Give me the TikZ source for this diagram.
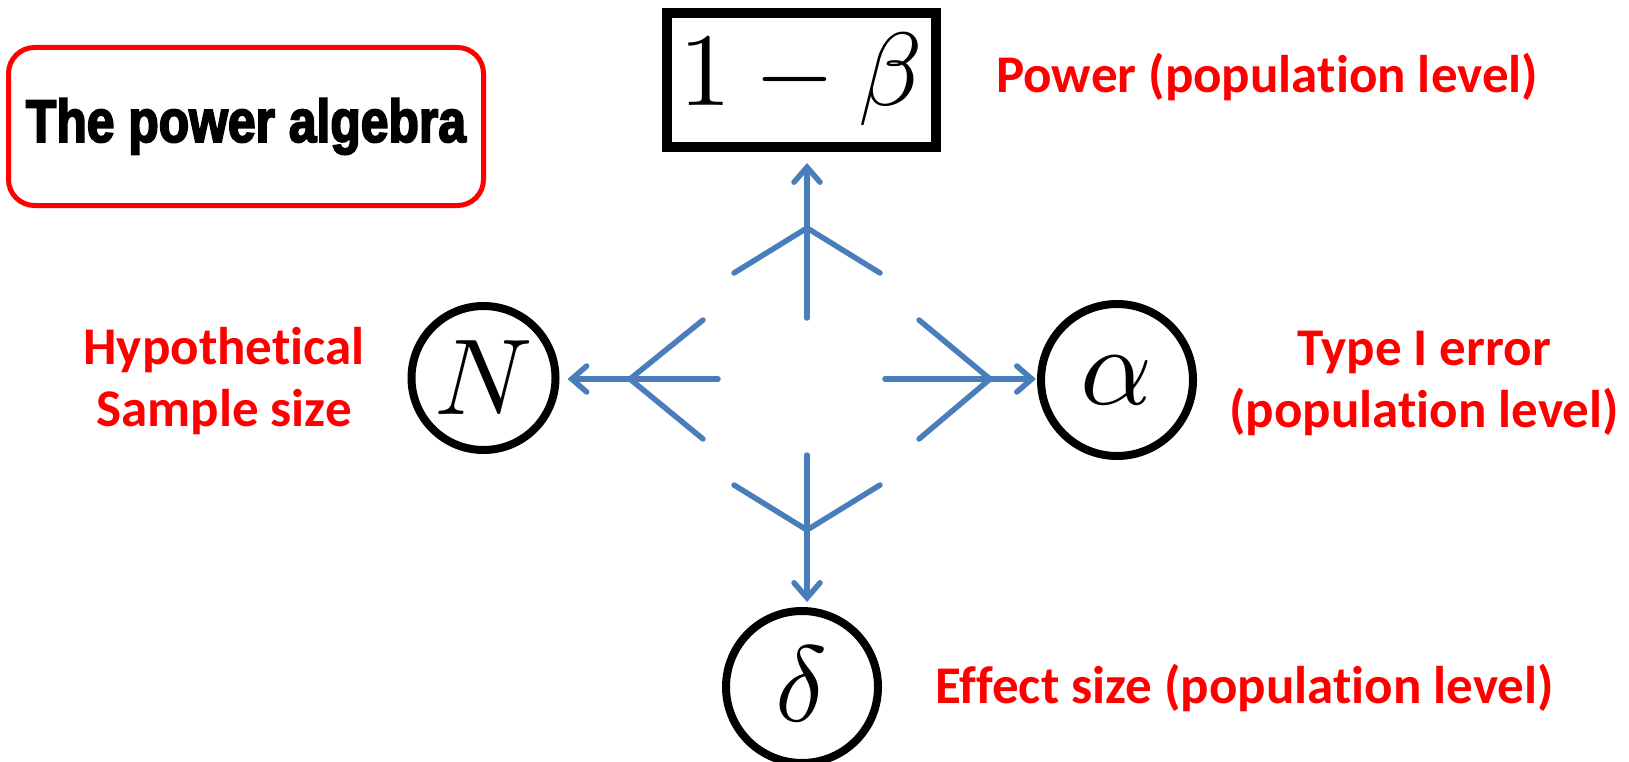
\documentclass[tikz,border=0pt]{standalone}
\usepackage{fontspec}
\usepackage{graphicx}
\usetikzlibrary{arrows.meta}
\newfontfamily\redfont{Carlito}[Ligatures={NoCommon}]
\newfontfamily\impactfont{Liberation Sans Bold}[FakeBold=3.5]
\definecolor{arrowblue}{RGB}{74,126,187}
\begin{document}
\begin{tikzpicture}[x=1pt,y=-1pt,
  lbl/.style={text=red, font=\redfont\bfseries\fontsize{53}{62}\selectfont, inner sep=0pt},
  varnode/.style={circle, draw=black, line width=8pt, inner sep=0pt},
  blu/.style={draw=arrowblue, line width=5.5pt, line cap=round},
  tipped/.style={-{Straight Barb[length=15pt,width=26pt,line cap=round]}}
]
\useasboundingbox (0,0) rectangle (1629,762);

% title box
\node[draw=red, line width=5pt, rounded corners=26pt, minimum width=475pt, minimum height=158pt, inner sep=0pt] (title) at (246,126.5)
  {\impactfont\resizebox*{440pt}{56pt}{The power algebra}};

% power box
\node[draw=black, line width=10pt, minimum width=269pt, minimum height=134pt, inner sep=0pt] (pw) at (801.5,80)
  {\scalebox{10.4}{$1-\beta$}};

% variable circles
\node[varnode, minimum size=144pt] (N) at (483.5,378) {\scalebox{10.8}{$N$}};
\node[varnode, minimum size=152pt] (al) at (1117,380) {\scalebox{11.2}{$\alpha$}};
\node[varnode, minimum size=152pt] (de) at (802,687) {\raisebox{6pt}{\scalebox{10.8}{$\delta$}}};

% top fork
\coordinate (ts) at (807,318);
\coordinate (tj) at (807,228);
\coordinate (tl) at (734,273);
\coordinate (tr) at (880,273);
\draw[blu, tipped, shorten >=11pt] (ts) -- (ts |- pw.south);
\draw[blu] (tl) -- (tj) -- (tr);

% left fork
\coordinate (ls) at (718,379);
\coordinate (lj) at (630,379);
\coordinate (lu) at (703,320);
\coordinate (ld) at (703,439);
\draw[blu, tipped, shorten >=8pt] (ls) -- (ls -| N.east);
\draw[blu] (lu) -- (lj) -- (ld);

% right fork
\coordinate (rs) at (885,379);
\coordinate (rj) at (990,379);
\coordinate (ru) at (919,320);
\coordinate (rd) at (919,439);
\draw[blu, tipped, shorten >=1pt] (rs) -- (rs -| al.west);
\draw[blu] (ru) -- (rj) -- (rd);

% bottom fork
\coordinate (bs) at (807,455);
\coordinate (bj) at (807,530);
\coordinate (bl) at (734,485);
\coordinate (br) at (880,485);
\draw[blu, tipped, shorten >=5pt] (bs) -- (bs |- de.north);
\draw[blu] (bl) -- (bj) -- (br);

% labels
\node[lbl, anchor=base west] (powlbl) at (996,93) {Power (population level)};
\node[lbl, anchor=base west] (efflbl) at (935,703) {Effect size (population level)};
\node[lbl, align=center] (nlbl) at (224,381) {Hypothetical\\Sample size};
\node[lbl, align=center] (allbl) at (1424,383.5) {Type I error\\(population level)};
\end{tikzpicture}
\end{document}
